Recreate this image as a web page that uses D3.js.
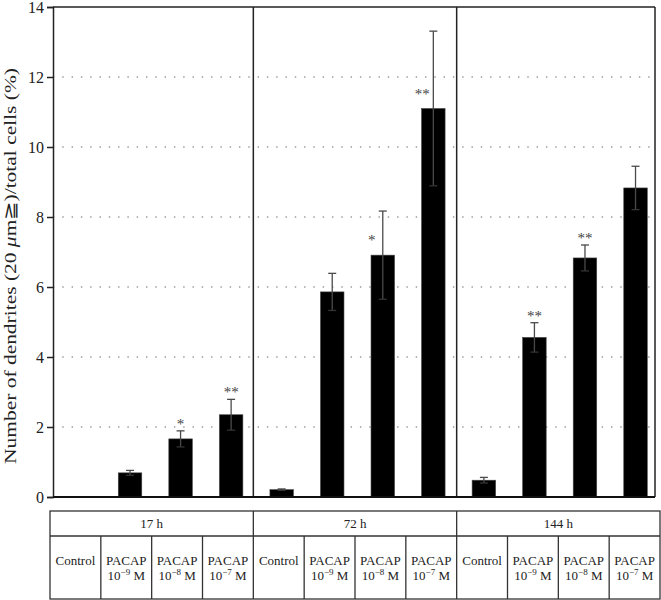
<!DOCTYPE html>
<html><head><meta charset="utf-8">
<script src="https://cdn.jsdelivr.net/npm/d3@7"></script>
<style>
body{margin:0;background:#fff;}
svg{display:block;}
svg text{font-family:'Liberation Serif','DejaVu Serif',serif !important;}
</style></head>
<body>
<script>
// ---- data ----
const timeGroups = ["17 h", "72 h", "144 h"];
const treatments = ["Control", "PACAP", "PACAP", "PACAP"];
const concExponents = ["", "−9", "−8", "−7"];
const means  = [0.00, 0.69, 1.66, 2.35, 0.21, 5.86, 6.91, 11.10, 0.48, 4.56, 6.83, 8.83];
const errors = [0.00, 0.07, 0.23, 0.44, 0.02, 0.53, 1.26, 2.21, 0.08, 0.42, 0.37, 0.62];
const signif = ["", "", "*", "**", "", "", "*", "**", "", "**", "**", ""];
const signifSide = [false, false, false, false, false, false, true, true, false, false, false, false];
const yTicks = [0, 2, 4, 6, 8, 10, 12, 14];
const yTitle = ["Number of dendrites (20 ", "μ", "m≧)/total cells (%)"];

const W = 661, H = 600;
const svg = d3.select("body").append("svg").attr("width", W).attr("height", H)
  .attr("font-family", "Liberation Serif");

const plotL = 53, plotR = 655, plotT = 7, plotB = 497;
const idx = d3.range(means.length);

const y = d3.scaleLinear().domain([0, 14]).range([plotB, plotT]);
const x = d3.scaleBand().domain(idx).range([54.2, 660.8]).paddingInner(0.535).paddingOuter(0.2675);
const tx = d3.scaleBand().domain(idx).range([50, 660]).padding(0);

// grid
svg.append("g").selectAll("line").data(yTicks.filter(t => t > 0 && t < 14)).join("line")
  .attr("x1", plotL).attr("x2", plotR)
  .attr("y1", d => y(d)).attr("y2", d => y(d))
  .attr("stroke", "#666").attr("stroke-width", 1.2)
  .attr("stroke-dasharray", "1.4 7.9");

// bars
svg.append("g").selectAll("rect").data(idx).join("rect")
  .attr("x", i => x(i)).attr("width", x.bandwidth())
  .attr("y", i => y(means[i])).attr("height", i => y(0) - y(means[i]))
  .attr("fill", "#000").attr("stroke", "#444").attr("stroke-width", 0.6);

// error bars
const eb = svg.append("g").selectAll("g").data(idx.filter(i => errors[i] > 0)).join("g")
  .attr("stroke", "#4a4a4a").attr("stroke-width", 1.3);
eb.append("line")
  .attr("x1", i => x(i) + x.bandwidth() / 2).attr("x2", i => x(i) + x.bandwidth() / 2)
  .attr("y1", i => y(means[i] - errors[i])).attr("y2", i => y(means[i] + errors[i]));
eb.append("line")
  .attr("x1", i => x(i) + x.bandwidth() / 2 - 4).attr("x2", i => x(i) + x.bandwidth() / 2 + 4)
  .attr("y1", i => y(means[i] + errors[i])).attr("y2", i => y(means[i] + errors[i]));
eb.append("line")
  .attr("x1", i => x(i) + x.bandwidth() / 2 - 4).attr("x2", i => x(i) + x.bandwidth() / 2 + 4)
  .attr("y1", i => y(means[i] - errors[i])).attr("y2", i => y(means[i] - errors[i]))
  .attr("stroke", "#333");

// significance stars
svg.append("g").selectAll("text").data(idx.filter(i => signif[i])).join("text")
  .attr("x", i => x(i) + x.bandwidth() / 2 + (signifSide[i] ? -11 : 0))
  .attr("y", i => signifSide[i] ? y(means[i]) - 10 : y(means[i] + errors[i]) - 2)
  .attr("text-anchor", "middle").attr("font-size", 15).attr("fill", "#444")
  .text(i => signif[i]);

// frame: top, right, panel dividers
const frame = svg.append("g").attr("stroke", "#222").attr("stroke-width", 1.5).attr("fill", "none");
frame.append("line").attr("x1", plotL).attr("x2", plotR).attr("y1", plotT).attr("y2", plotT);
frame.append("line").attr("x1", plotR).attr("x2", plotR).attr("y1", plotT).attr("y2", plotB);
[4, 8].forEach(k => {
  frame.append("line").attr("x1", tx(k)).attr("x2", tx(k)).attr("y1", plotT).attr("y2", plotB);
});

// y axis
const yAxis = svg.append("g").attr("transform", `translate(${plotL},0)`)
  .call(d3.axisLeft(y).tickValues(yTicks).tickSize(6).tickPadding(3).tickFormat(d3.format("d")))
  .attr("font-family", "Liberation Serif").attr("font-size", 16);
yAxis.selectAll("path,line").attr("stroke", "#222").attr("stroke-width", 1.5);
yAxis.selectAll("text").attr("fill", "#222");
// x baseline
svg.append("line").attr("x1", plotL).attr("x2", plotR).attr("y1", plotB).attr("y2", plotB)
  .attr("stroke", "#111").attr("stroke-width", 2);

// y title
const yt = svg.append("text")
  .attr("transform", `translate(16,266) rotate(-90)`)
  .attr("text-anchor", "middle").attr("font-size", 16.5).attr("fill", "#222")
  .attr("textLength", 396).attr("lengthAdjust", "spacingAndGlyphs");
yTitle.forEach((s, k) => yt.append("tspan").attr("font-style", k === 1 ? "italic" : null).text(s));

// table
const tT = 511, tM = 536, tB = 599;
const tbl = svg.append("g").attr("stroke", "#333").attr("stroke-width", 1.3).attr("fill", "none");
tbl.append("rect").attr("x", tx(0)).attr("y", tT).attr("width", tx(11) + tx.bandwidth() - tx(0)).attr("height", tB - tT);
tbl.append("line").attr("x1", tx(0)).attr("x2", tx(11) + tx.bandwidth()).attr("y1", tM).attr("y2", tM);
idx.slice(1).forEach(i => {
  tbl.append("line").attr("x1", tx(i)).attr("x2", tx(i))
    .attr("y1", i % 4 === 0 ? tT : tM).attr("y2", tB);
});
// group labels
svg.append("g").selectAll("text").data(timeGroups).join("text")
  .attr("x", (d, g) => tx(g * 4) + 2 * tx.bandwidth())
  .attr("y", 528).attr("text-anchor", "middle").attr("font-size", 13).attr("fill", "#222")
  .text(d => d);
// treatment labels
const cell = svg.append("g").selectAll("g").data(idx).join("g")
  .attr("transform", i => `translate(${tx(i) + tx.bandwidth() / 2},0)`)
  .attr("font-size", 13).attr("fill", "#222").attr("text-anchor", "middle");
cell.append("text").attr("y", 565).text(i => treatments[i % 4]);
const conc = cell.filter(i => concExponents[i % 4] !== "").append("text").attr("y", 580);
conc.append("tspan").text("10");
conc.append("tspan").attr("font-size", 9).attr("dy", -5).text(i => concExponents[i % 4]);
conc.append("tspan").attr("dy", 5).text(" M");
</script>
</body></html>
